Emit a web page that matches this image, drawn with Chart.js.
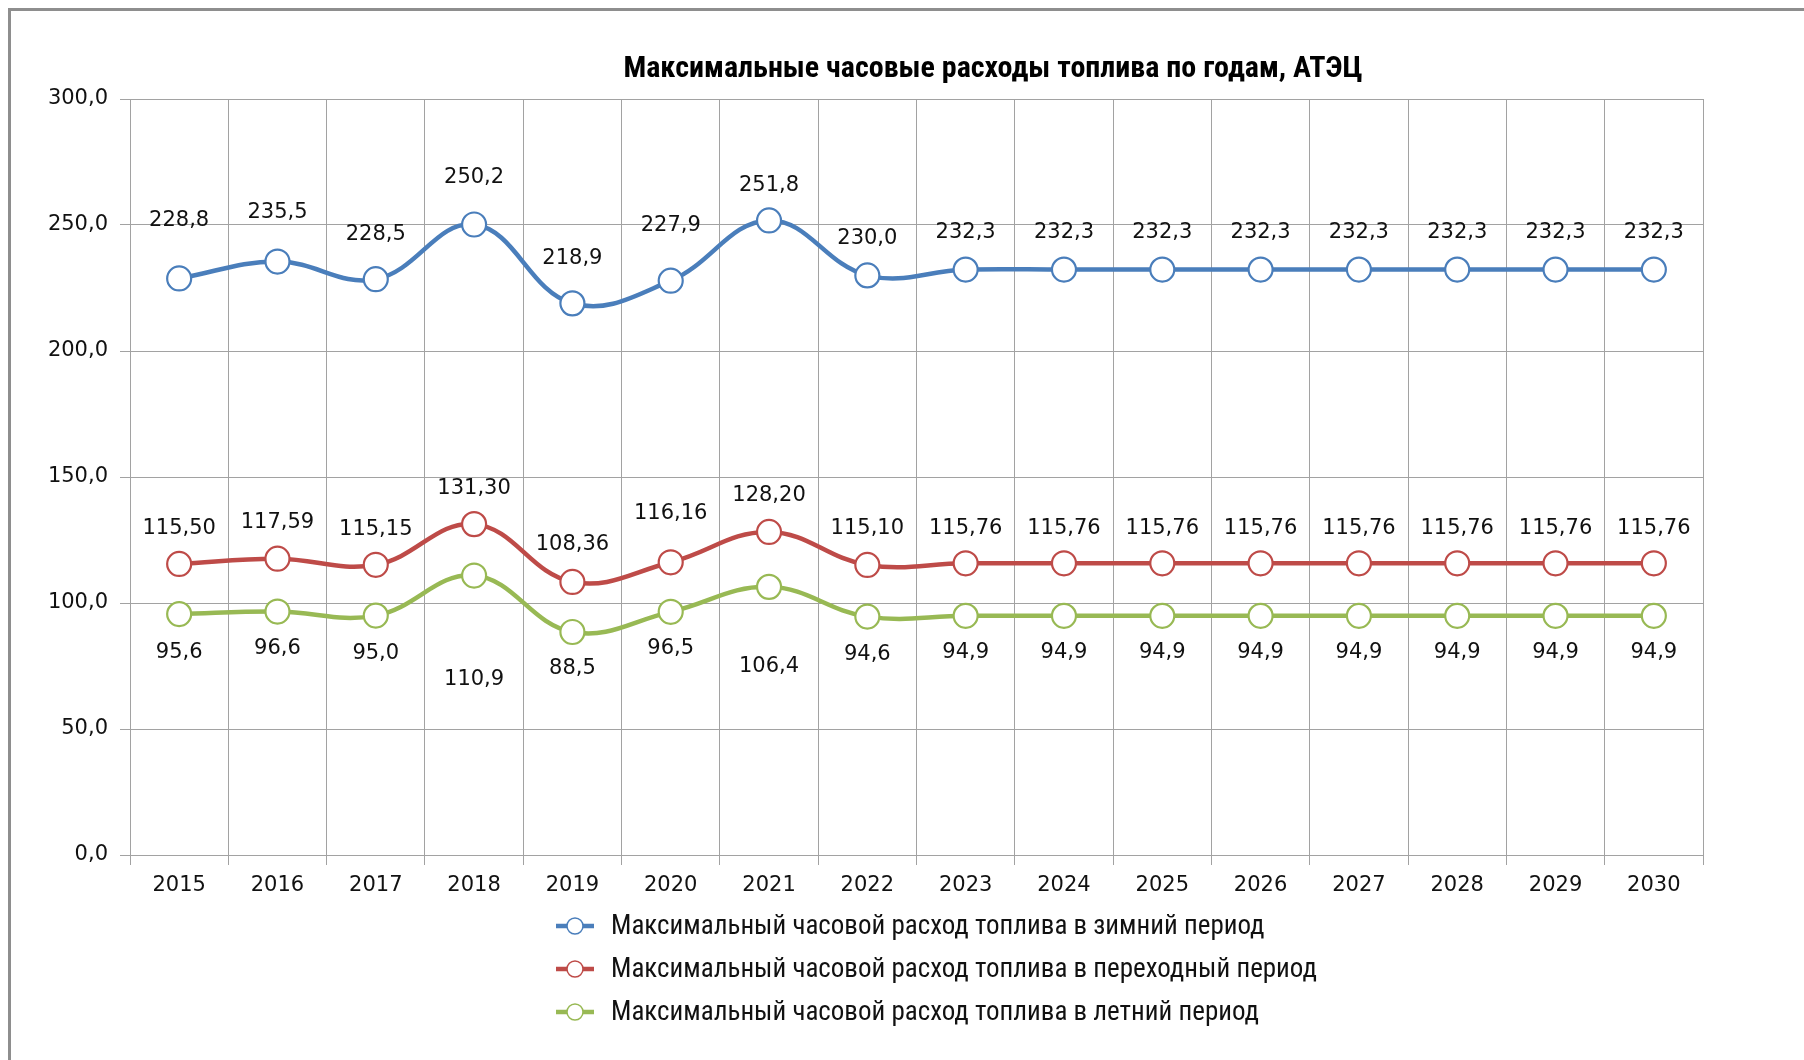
<!DOCTYPE html>
<html>
<head>
<meta charset="utf-8">
<script src="https://cdn.jsdelivr.net/npm/chart.js@4.4.1/dist/chart.umd.min.js"></script>
<style>
  body { margin: 0; background: #fff; }
  canvas { display: block; }
</style>
</head>
<body>
<canvas id="fuel" width="1804" height="1060"></canvas>
<script>
// categories
const years = ['2015', '2016', '2017', '2018', '2019', '2020', '2021', '2022',
               '2023', '2024', '2025', '2026', '2027', '2028', '2029', '2030'];

// series values
const winter = [228.8, 235.5, 228.5, 250.2, 218.9, 227.9, 251.8, 230.0,
                232.3, 232.3, 232.3, 232.3, 232.3, 232.3, 232.3, 232.3];
const transition = [115.50, 117.59, 115.15, 131.30, 108.36, 116.16, 128.20, 115.10,
                    115.76, 115.76, 115.76, 115.76, 115.76, 115.76, 115.76, 115.76];
const summer = [95.6, 96.6, 95.0, 110.9, 88.5, 96.5, 106.4, 94.6,
                94.9, 94.9, 94.9, 94.9, 94.9, 94.9, 94.9, 94.9];

const seriesNames = [
    'Максимальный часовой расход топлива в зимний период',
    'Максимальный часовой расход топлива в переходный период',
    'Максимальный часовой расход топлива в летний период'
];
const chartTitle = 'Максимальные часовые расходы топлива по годам, АТЭЦ';

// y axis range
const yMin = 0;
const yMax = 300;
const yStep = 50;

const colours = ['#4A7EBB', '#BE4B48', '#98B954'];

// where each value label sits relative to its marker (px)
const labelShift = [
    [-58, -49, -45, -47, -45, -55, -35, -37, -37, -37, -37, -37, -37, -37, -37, -37],
    [-35, -36, -35, -36, -37, -49, -36, -36, -35, -35, -35, -35, -35, -35, -35, -35],
    [38, 37, 38, 104, 37, 37, 80, 38, 37, 37, 37, 37, 37, 37, 37, 37]
];
const labelDecimals = [1, 2, 1];

const narrow = '"Liberation Sans Narrow", "Roboto Condensed", Roboto';
const commaNum = (v, d) => v.toFixed(d).replace('.', ',');

// white page, the left/top frame of the original picture and the title
const frame = {
    id: 'frame',
    beforeDraw(chart) {
        const ctx = chart.ctx;
        ctx.save();
        ctx.fillStyle = '#fff';
        ctx.fillRect(0, 0, chart.width, chart.height);
        ctx.strokeStyle = '#8e8e8e';
        ctx.lineWidth = 3;
        ctx.beginPath();
        ctx.moveTo(9.5, chart.height);
        ctx.lineTo(9.5, 9.5);
        ctx.lineTo(chart.width, 9.5);
        ctx.stroke();
        // title is not centred on the plot in the source, so place it by hand
        ctx.font = 'bold 30px ' + narrow;
        ctx.fillStyle = '#000';
        ctx.textAlign = 'center';
        ctx.textBaseline = 'middle';
        ctx.fillText(chartTitle, 993, 69);
        ctx.restore();
    }
};

// numbers next to the markers
const valueLabels = {
    id: 'valueLabels',
    afterDatasetsDraw(chart) {
        const ctx = chart.ctx;
        ctx.save();
        ctx.font = '21px "DejaVu Sans"';
        ctx.fillStyle = '#111';
        ctx.textAlign = 'center';
        ctx.textBaseline = 'middle';
        chart.data.datasets.forEach((ds, i) => {
            const meta = chart.getDatasetMeta(i);
            meta.data.forEach((pt, j) => {
                ctx.fillText(commaNum(ds.data[j], labelDecimals[i]), pt.x, pt.y + labelShift[i][j]);
            });
        });
        ctx.restore();
    }
};

// vertical legend under the axis, left aligned like Excel does it
const stackedLegend = {
    id: 'stackedLegend',
    afterDraw(chart) {
        const ctx = chart.ctx;
        const x0 = 556, rowY = [926, 969, 1012];
        ctx.save();
        ctx.font = '27px ' + narrow;
        ctx.textBaseline = 'middle';
        ctx.textAlign = 'left';
        chart.data.datasets.forEach((ds, i) => {
            const y = rowY[i];
            ctx.strokeStyle = ds.borderColor;
            ctx.lineWidth = 4.5;
            ctx.beginPath();
            ctx.moveTo(x0, y);
            ctx.lineTo(x0 + 38, y);
            ctx.stroke();
            ctx.beginPath();
            ctx.arc(x0 + 19, y, 8, 0, Math.PI * 2);
            ctx.fillStyle = '#fff';
            ctx.fill();
            ctx.lineWidth = 1.5;
            ctx.stroke();
            ctx.fillStyle = '#111';
            ctx.fillText(ds.label, x0 + 55, y + 1);
        });
        ctx.restore();
    }
};

const makeSeries = (label, data, colour) => ({
    label: label,
    data: data,
    borderColor: colour,
    backgroundColor: colour,
    borderWidth: 4.5,
    tension: 0.4,
    pointRadius: 12,
    pointHoverRadius: 12,
    pointBorderWidth: 2.2,
    pointBackgroundColor: '#fff',
    pointBorderColor: colour
});

const config = {
    type: 'line',
    data: {
        labels: years,
        datasets: [
            makeSeries(seriesNames[0], winter, colours[0]),
            makeSeries(seriesNames[1], transition, colours[1]),
            makeSeries(seriesNames[2], summer, colours[2])
        ]
    },
    options: {
        responsive: false,
        animation: false,
        layout: { padding: { left: 0, right: 101, top: 99, bottom: 0 } },
        plugins: {
            legend: { display: false },
            tooltip: { enabled: false },
            title: { display: false }
        },
        scales: {
            x: {
                offset: true,
                grid: { offset: true, color: '#a2a2a2', lineWidth: 1, tickLength: 10 },
                border: { color: '#a2a2a2', width: 1 },
                ticks: {
                    color: '#111',
                    font: { family: '"DejaVu Sans"', size: 21 },
                    padding: 8,
                    maxRotation: 0,
                    autoSkip: false
                },
                afterFit(scale) { scale.height = 205; }
            },
            y: {
                min: yMin,
                max: yMax,
                grid: { color: '#a2a2a2', lineWidth: 1, tickLength: 10 },
                border: { color: '#a2a2a2', width: 1 },
                ticks: {
                    stepSize: yStep,
                    color: '#111',
                    font: { family: '"DejaVu Sans"', size: 21 },
                    padding: 12,
                    callback: v => commaNum(v, 1)
                },
                afterFit(scale) { scale.width = 130; }
            }
        }
    },
    plugins: [frame, valueLabels, stackedLegend]
};

var ctx = document.getElementById('fuel');
var chart = new Chart(ctx, config);
</script>
</body>
</html>
